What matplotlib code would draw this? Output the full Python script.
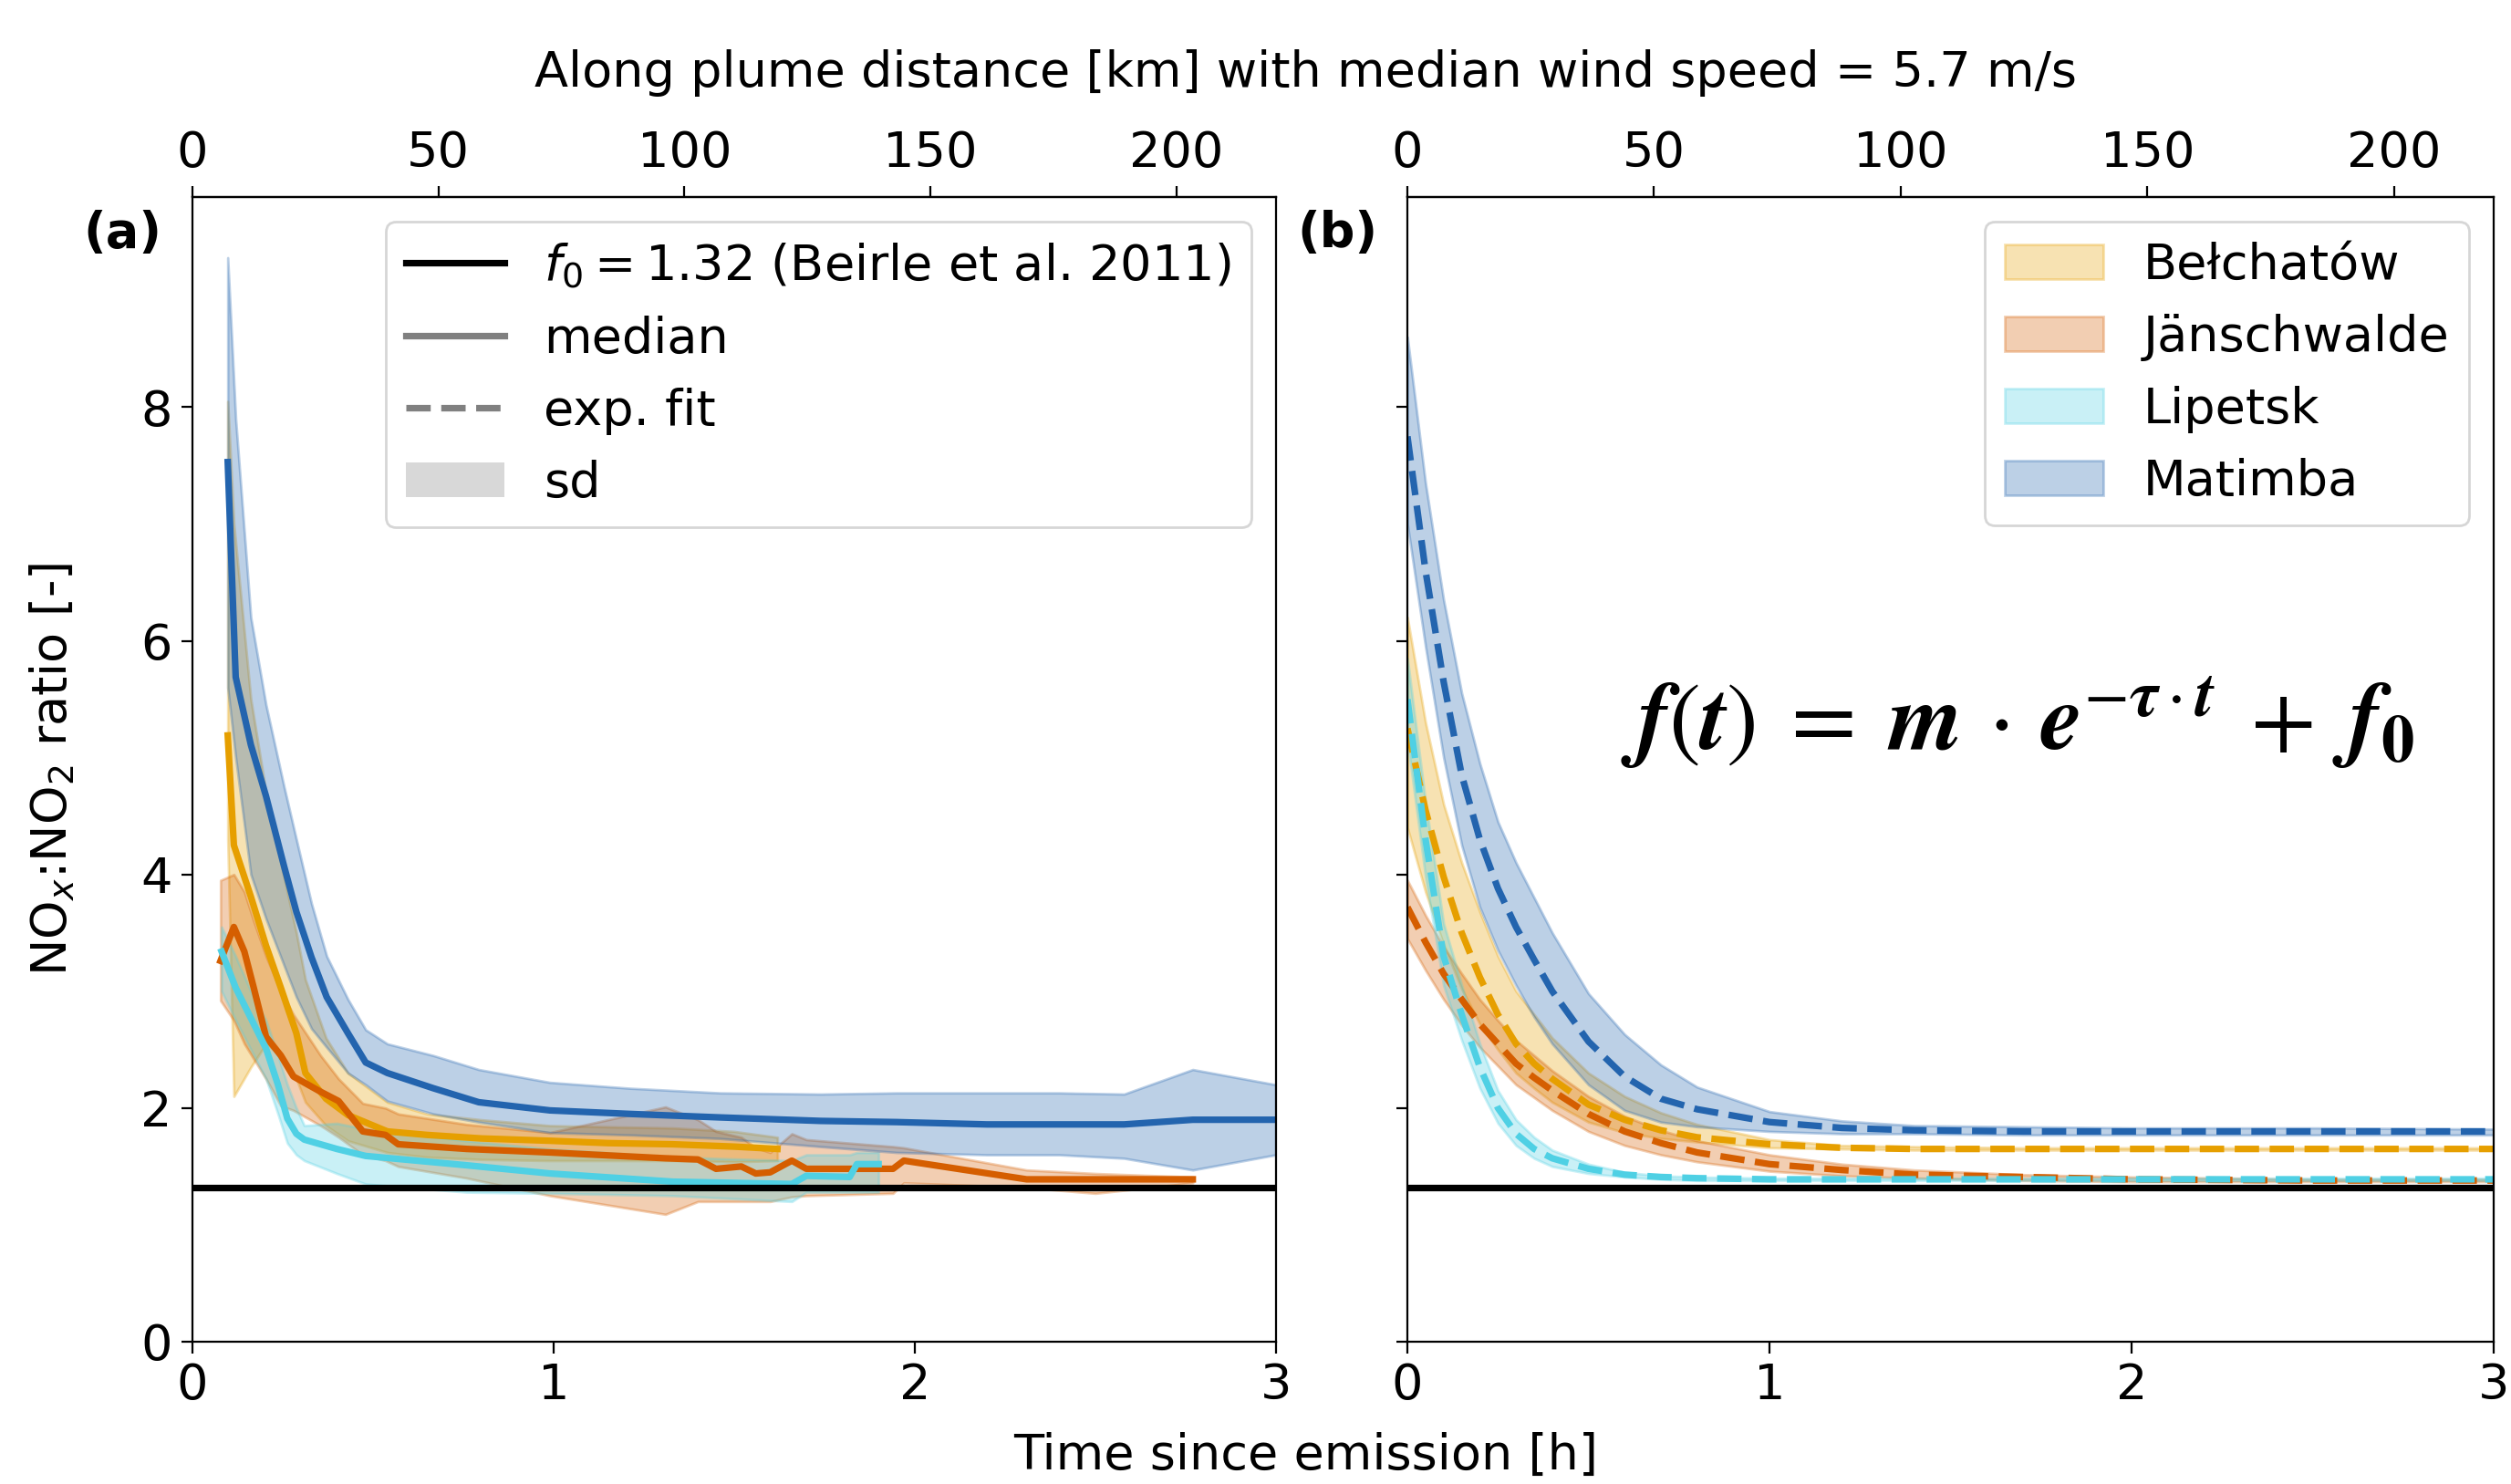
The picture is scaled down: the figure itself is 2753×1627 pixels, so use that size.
import matplotlib

matplotlib.use("Agg")
import matplotlib.pyplot as plt
from matplotlib.lines import Line2D
from matplotlib.patches import Patch

# --- data ---------------------------------------------------------------
F0 = 1.32
KM_PER_HOUR = 73.4  # conversion used for the top axis

SITES = ["Bełchatów", "Jänschwalde", "Lipetsk", "Matimba"]

# (a) median and sd band per site, time in hours
belchatow_t = [0.098, 0.115, 0.162, 0.204, 0.245, 0.288, 0.313, 0.37, 0.431, 0.54,
               0.65, 0.8, 0.99, 1.15, 1.33, 1.5, 1.62]
belchatow_med = [5.19, 4.25, 3.81, 3.39, 3.03, 2.64, 2.3, 2.08, 1.94, 1.8,
                 1.77, 1.74, 1.72, 1.7, 1.69, 1.67, 1.65]
belchatow_hi = [8.05, 7.0, 5.5, 4.7, 4.1, 3.5, 3.1, 2.6, 2.3, 2.05,
                1.95, 1.9, 1.85, 1.84, 1.83, 1.8, 1.75]
belchatow_lo = [4.3, 2.1, 2.35, 2.55, 2.45, 2.25, 2.05, 1.85, 1.72, 1.62,
                1.58, 1.56, 1.55, 1.55, 1.55, 1.54, 1.55]

jaensch_t = [0.078, 0.115, 0.144, 0.17, 0.204, 0.245, 0.28, 0.355, 0.405, 0.472,
             0.535, 0.57, 0.76, 0.99, 1.31, 1.4, 1.45, 1.52, 1.56, 1.6,
             1.66, 1.7, 1.94, 1.97, 2.31, 2.5, 2.77]
jaensch_med = [3.26, 3.55, 3.34, 3.03, 2.61, 2.45, 2.27, 2.14, 2.06, 1.8,
               1.77, 1.69, 1.65, 1.62, 1.57, 1.56, 1.48, 1.5, 1.44, 1.45,
               1.55, 1.48, 1.48, 1.55, 1.39, 1.39, 1.39]
jaensch_hi = [3.95, 4.0, 3.85, 3.6, 3.3, 3.0, 2.8, 2.45, 2.25, 2.04,
              2.0, 1.95, 1.86, 1.79, 2.01, 1.9, 1.8, 1.75, 1.66, 1.62,
              1.78, 1.73, 1.67, 1.66, 1.47, 1.44, 1.41]
jaensch_lo = [2.92, 2.75, 2.55, 2.42, 2.25, 2.02, 1.98, 1.85, 1.75, 1.6,
              1.55, 1.5, 1.4, 1.25, 1.09, 1.2, 1.2, 1.2, 1.2, 1.2,
              1.24, 1.25, 1.27, 1.36, 1.32, 1.27, 1.36]

lipetsk_t = [0.081, 0.12, 0.162, 0.204, 0.237, 0.263, 0.288, 0.31, 0.4, 0.48,
             0.76, 0.99, 1.33, 1.66, 1.7, 1.82, 1.84, 1.9]
lipetsk_med = [3.34, 3.03, 2.77, 2.51, 2.2, 1.91, 1.78, 1.73, 1.65, 1.59,
               1.51, 1.44, 1.37, 1.35, 1.42, 1.41, 1.52, 1.52]
lipetsk_hi = [3.55, 3.3, 3.0, 2.75, 2.45, 2.2, 2.0, 1.85, 1.87, 1.82,
              1.72, 1.65, 1.58, 1.55, 1.6, 1.6, 1.62, 1.62]
lipetsk_lo = [3.0, 2.75, 2.5, 2.25, 1.95, 1.7, 1.6, 1.55, 1.44, 1.35,
              1.28, 1.27, 1.25, 1.2, 1.28, 1.28, 1.28, 1.28]

matimba_t = [0.098, 0.12, 0.162, 0.204, 0.254, 0.288, 0.33, 0.372, 0.431, 0.48,
             0.54, 0.667, 0.793, 0.99, 1.21, 1.46, 1.74, 1.95, 2.2, 2.4,
             2.58, 2.77, 3.0]
matimba_med = [7.53, 5.69, 5.11, 4.67, 4.07, 3.68, 3.29, 2.95, 2.64, 2.39,
               2.3, 2.17, 2.05, 1.98, 1.95, 1.92, 1.89, 1.88, 1.86, 1.86,
               1.86, 1.9, 1.9]
matimba_hi = [9.28, 7.9, 6.2, 5.45, 4.75, 4.3, 3.75, 3.3, 2.93, 2.67,
              2.55, 2.45, 2.33, 2.22, 2.17, 2.13, 2.12, 2.13, 2.13, 2.13,
              2.12, 2.33, 2.2]
matimba_lo = [5.6, 5.0, 4.0, 3.62, 3.22, 2.95, 2.68, 2.52, 2.3, 2.2,
              2.06, 1.95, 1.88, 1.79, 1.77, 1.74, 1.67, 1.62, 1.6, 1.6,
              1.57, 1.47, 1.6]

# (b) exponential fits with their uncertainty band
fit_t = [0, 0.05, 0.1, 0.15, 0.2, 0.25, 0.3, 0.35, 0.4, 0.5,
         0.6, 0.7, 0.8, 1.0, 1.2, 1.4, 1.7, 2.0, 2.5, 3.0]
belchatow_fit = [5.25, 4.55, 3.98, 3.5, 3.12, 2.8, 2.55, 2.38, 2.25, 2.03,
                 1.9, 1.81, 1.75, 1.69, 1.66, 1.65, 1.65, 1.65, 1.65, 1.65]
belchatow_fit_hi = [6.2, 5.3, 4.6, 4.1, 3.68, 3.3, 3.0, 2.8, 2.6, 2.3,
                    2.1, 1.96, 1.86, 1.73, 1.68, 1.67, 1.66, 1.66, 1.66, 1.66]
belchatow_fit_lo = [4.4, 3.85, 3.4, 3.02, 2.72, 2.5, 2.3, 2.17, 2.05, 1.88,
                    1.79, 1.74, 1.71, 1.66, 1.65, 1.64, 1.64, 1.64, 1.64, 1.64]

jaensch_fit = [3.72, 3.42, 3.15, 2.93, 2.72, 2.55, 2.38, 2.26, 2.15, 1.95,
               1.8, 1.7, 1.62, 1.52, 1.47, 1.43, 1.41, 1.39, 1.38, 1.38]
jaensch_fit_hi = [3.95, 3.65, 3.38, 3.15, 2.93, 2.75, 2.58, 2.45, 2.32, 2.1,
                  1.93, 1.81, 1.72, 1.6, 1.52, 1.47, 1.43, 1.41, 1.39, 1.39]
jaensch_fit_lo = [3.45, 3.18, 2.93, 2.71, 2.52, 2.36, 2.2, 2.09, 1.98, 1.8,
                  1.68, 1.6, 1.54, 1.46, 1.42, 1.4, 1.38, 1.37, 1.37, 1.37]

lipetsk_fit = [5.5, 4.3, 3.3, 2.8, 2.35, 2.0, 1.78, 1.65, 1.57, 1.48,
               1.43, 1.41, 1.4, 1.39, 1.39, 1.39, 1.39, 1.39, 1.39, 1.39]
lipetsk_fit_hi = [5.85, 4.62, 3.58, 3.05, 2.55, 2.15, 1.9, 1.75, 1.64, 1.52,
                  1.45, 1.42, 1.41, 1.4, 1.4, 1.4, 1.4, 1.4, 1.4, 1.4]
lipetsk_fit_lo = [5.15, 3.98, 3.05, 2.58, 2.17, 1.87, 1.68, 1.57, 1.5, 1.44,
                  1.41, 1.39, 1.38, 1.38, 1.38, 1.38, 1.38, 1.38, 1.38, 1.38]

matimba_fit = [7.75, 6.6, 5.65, 4.85, 4.3, 3.88, 3.55, 3.27, 3.0, 2.57,
               2.27, 2.08, 1.99, 1.88, 1.83, 1.81, 1.8, 1.8, 1.8, 1.8]
matimba_fit_hi = [8.6, 7.35, 6.35, 5.55, 4.95, 4.45, 4.1, 3.8, 3.5, 2.98,
                  2.63, 2.37, 2.18, 1.97, 1.89, 1.85, 1.84, 1.83, 1.83, 1.82]
matimba_fit_lo = [7.0, 5.95, 5.0, 4.25, 3.72, 3.35, 3.05, 2.78, 2.55, 2.2,
                  1.98, 1.88, 1.84, 1.8, 1.78, 1.78, 1.77, 1.77, 1.77, 1.77]

X_TICKS = [0, 1, 2, 3]
Y_TICKS = [0, 2, 4, 6, 8]
KM_TICKS = [0, 50, 100, 150, 200]

# --- style ---------------------------------------------------------------
COLORS = ["#E69F00", "#D55E00", "#4FD0E4", "#2364AE"]
FS = 19.5
LW = 2.6

plt.rcParams["font.family"] = ["DejaVu Sans"]
plt.rcParams["font.size"] = FS

fig = plt.figure(figsize=(2753 / 200, 1627 / 200), dpi=200)
ax_a = fig.add_axes([0.0766, 0.0959, 0.4315, 0.7714])
ax_b = fig.add_axes([0.5605, 0.0959, 0.4326, 0.7714], sharey=ax_a)

medians = [
    (belchatow_t, belchatow_med, belchatow_lo, belchatow_hi),
    (jaensch_t, jaensch_med, jaensch_lo, jaensch_hi),
    (lipetsk_t, lipetsk_med, lipetsk_lo, lipetsk_hi),
    (matimba_t, matimba_med, matimba_lo, matimba_hi),
]
fits = [
    (belchatow_fit, belchatow_fit_lo, belchatow_fit_hi),
    (jaensch_fit, jaensch_fit_lo, jaensch_fit_hi),
    (lipetsk_fit, lipetsk_fit_lo, lipetsk_fit_hi),
    (matimba_fit, matimba_fit_lo, matimba_fit_hi),
]

for (t, med, lo, hi), color in zip(medians, COLORS):
    ax_a.fill_between(t, lo, hi, color=color, alpha=0.3, lw=1)
    ax_a.plot(t, med, color=color, lw=LW)

for name, (fit, lo, hi), color in zip(SITES, fits, COLORS):
    ax_b.fill_between(fit_t, lo, hi, color=color, alpha=0.3, lw=1, label=name)
    ax_b.plot(fit_t, fit, color=color, lw=LW, ls="--")

for ax in (ax_a, ax_b):
    ax.axhline(F0, color="k", lw=2.6, zorder=3)
    ax.set_xlim(0, 3)
    ax.set_ylim(0, 9.8)
    ax.set_xticks(X_TICKS)
    ax.set_yticks(Y_TICKS)
    ax.tick_params(labelsize=FS, length=4.5)
    top = ax.secondary_xaxis(
        "top", functions=(lambda h: h * KM_PER_HOUR, lambda km: km / KM_PER_HOUR)
    )
    top.set_xticks(KM_TICKS)
    top.tick_params(labelsize=FS, length=4.5)

ax_b.tick_params(labelleft=False)
ax_a.set_ylabel(r"NO$_x$:NO$_2$ ratio [-]", fontsize=FS, labelpad=25)

ax_a.text(-0.101, 0.968, "(a)", transform=ax_a.transAxes, fontsize=FS,
          fontweight="bold", va="center", ha="left")
ax_b.text(-0.101, 0.968, "(b)", transform=ax_b.transAxes, fontsize=FS,
          fontweight="bold", va="center", ha="left")

legend_a = [
    Line2D([], [], color="k", lw=2.6, label=r"$f_0 = 1.32$ (Beirle et al. 2011)"),
    Line2D([], [], color="grey", lw=LW, label="median"),
    Line2D([], [], color="grey", lw=LW, ls="--", label="exp. fit"),
    Patch(facecolor="grey", alpha=0.3, label="sd"),
]
ax_a.legend(handles=legend_a, loc="upper right", fontsize=FS)
ax_b.legend(loc="upper right", fontsize=FS)

ax_b.text(0.562, 0.54,
          r"$\mathbfit{f}(\mathbfit{t})\;=\;\mathbfit{m}\,\cdot\,\mathbfit{e}^{-\mathbfit{\tau}\cdot \mathbfit{t}}\;+\;\mathbfit{f}_{\mathbf{0}}$",
          transform=ax_b.transAxes, fontsize=37.5, math_fontfamily="stix",
          ha="center", va="center")

fig.text(0.52, 0.951, "Along plume distance [km] with median wind speed = 5.7 m/s",
         ha="center", va="center", fontsize=FS)
fig.text(0.52, 0.003, "Time since emission [h]", ha="center", va="bottom", fontsize=FS)

fig.savefig("out.png", dpi=200)
